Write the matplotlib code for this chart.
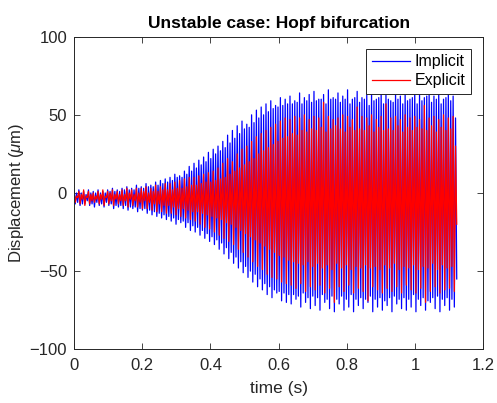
import numpy as np
import matplotlib
matplotlib.use("Agg")
import matplotlib.pyplot as plt

plt.rcParams['font.family'] = ['Liberation Sans', 'DejaVu Sans']
plt.rcParams['mathtext.fontset'] = 'custom'
plt.rcParams['mathtext.it'] = 'Liberation Sans:italic'

t_end = 1.122

# turning points of the oscillation (micrometres)
implicit_upper = [1, 0, 2, 0, 1, -1, 2, 0, 1, 0,
                  2, 0, 1, 0, 2, 1, 3, 1, 2, 1,
                  3, 2, 4, 2, 3, 2, 5, 3, 4, 3,
                  6, 4, 5, 4, 7, 5, 8, 6, 9, 7,
                  10, 8, 12, 10, 11, 10, 14, 12, 17, 14,
                  19, 16, 21, 18, 23, 20, 26, 22, 28, 25,
                  30, 27, 33, 29, 37, 32, 40, 35, 43, 38,
                  46, 41, 44, 42, 50, 45, 53, 48, 55, 50,
                  57, 52, 59, 54, 56, 55, 61, 56, 60, 57,
                  62, 57, 59, 58, 64, 57, 61, 59, 63, 58,
                  65, 59, 60, 60, 63, 57, 66, 60, 61, 60,
                  64, 58, 62, 60, 66, 57, 60, 61, 65, 58,
                  61, 60, 64, 56, 65, 59, 60, 61, 66, 57,
                  63, 60, 59, 58, 65, 60, 62, 57, 64, 59,
                  60, 61, 66, 57, 63, 59, 61, 62, 65, 58,
                  62, 60, 64, 57, 60, 61, 65, 59, 62, 48]
implicit_lower = [-7, -6, -8, -7, -7, -5, -8, -7, -9, -6,
                  -8, -7, -9, -6, -8, -7, -10, -8, -9, -8,
                  -10, -8, -11, -9, -10, -9, -12, -10, -11, -10,
                  -13, -11, -14, -12, -15, -13, -16, -14, -17, -15,
                  -18, -16, -20, -17, -19, -18, -22, -19, -24, -21,
                  -25, -22, -27, -24, -29, -26, -31, -28, -33, -30,
                  -36, -32, -39, -35, -42, -38, -45, -41, -48, -44,
                  -51, -47, -54, -50, -57, -52, -60, -55, -62, -58,
                  -65, -60, -67, -62, -64, -63, -69, -64, -70, -65,
                  -71, -65, -68, -66, -73, -64, -70, -67, -74, -66,
                  -72, -67, -75, -65, -70, -68, -74, -66, -76, -68,
                  -71, -66, -75, -68, -73, -65, -76, -68, -72, -67,
                  -74, -68, -70, -66, -76, -68, -73, -67, -75, -69,
                  -72, -67, -76, -66, -71, -68, -74, -67, -75, -68,
                  -73, -65, -76, -68, -72, -67, -75, -69, -70, -67,
                  -74, -66, -76, -68, -72, -67, -75, -68, -73, -55]
explicit_upper = [0, -2, 1, -1, 2, -2, 1, -1, 0, -2,
                  1, -1, 2, -2, 1, 0, 2, -1, 1, -1,
                  2, -1, 3, 0, 2, -1, 3, 0, 3, 1,
                  4, 0, 3, 1, 5, 1, 4, 2, 6, 2,
                  6, 2, 7, 3, 8, 3, 9, 4, 10, 5,
                  10, 5, 11, 6, 12, 7, 13, 7, 14, 8,
                  16, 9, 19, 10, 22, 12, 20, 14, 25, 16,
                  28, 18, 30, 20, 33, 22, 36, 25, 38, 27,
                  40, 29, 42, 31, 44, 33, 46, 35, 48, 36,
                  47, 38, 49, 37, 48, 40, 50, 39, 47, 41,
                  49, 40, 48, 42, 58, 39, 49, 41, 47, 43,
                  48, 41, 50, 39, 49, 42, 47, 40, 55, 41,
                  49, 40, 48, 43, 50, 39, 47, 42, 49, 40,
                  57, 41, 48, 40, 49, 43, 47, 39, 50, 42,
                  48, 40, 49, 42, 47, 41, 56, 40, 48, 43,
                  49, 39, 47, 42, 50, 40, 48, 41, 49, 30]
explicit_lower = [-6, -3, -7, -4, -8, -3, -7, -5, -6, -4,
                  -7, -4, -8, -3, -7, -5, -8, -4, -7, -5,
                  -8, -5, -9, -4, -8, -5, -9, -6, -10, -5,
                  -10, -6, -11, -7, -12, -7, -12, -8, -13, -8,
                  -13, -9, -14, -10, -15, -10, -16, -11, -17, -12,
                  -18, -12, -20, -13, -22, -14, -23, -15, -25, -16,
                  -27, -17, -29, -19, -31, -20, -33, -22, -36, -24,
                  -38, -26, -41, -28, -44, -30, -47, -32, -49, -34,
                  -52, -36, -54, -38, -55, -40, -57, -41, -58, -43,
                  -59, -44, -61, -45, -58, -46, -63, -44, -60, -47,
                  -62, -45, -59, -48, -64, -46, -61, -49, -70, -45,
                  -60, -48, -63, -46, -59, -49, -64, -47, -61, -48,
                  -63, -46, -69, -48, -60, -47, -62, -49, -64, -46,
                  -61, -48, -63, -45, -60, -49, -64, -47, -59, -48,
                  -62, -46, -64, -49, -61, -47, -70, -48, -63, -45,
                  -60, -49, -64, -46, -62, -48, -61, -47, -63, -20]


def zigzag(up, lo):
    y = np.empty(2 * len(up))
    y[0::2] = up
    y[1::2] = lo
    return y


y_imp = zigzag(implicit_upper, implicit_lower)
y_exp = zigzag(explicit_upper, explicit_lower)
t_imp = np.linspace(0, t_end, len(y_imp))
t_exp = np.linspace(0, t_end, len(y_exp))

fig = plt.figure(figsize=(4.97, 4.03), dpi=100)
ax = fig.add_axes([0.149, 0.1333, 0.8235, 0.7757])

ax.plot(t_imp, y_imp, color='b', lw=0.9, label='Implicit')
ax.plot(t_exp, y_exp, color='r', lw=0.9, label='Explicit')

ax.set_xlim(0, 1.2)
ax.set_ylim(-100, 100)
ax.set_xticks([0, 0.2, 0.4, 0.6, 0.8, 1, 1.2])
ax.set_xticklabels(['0', '0.2', '0.4', '0.6', '0.8', '1', '1.2'])
ax.set_yticks([-100, -50, 0, 50, 100])

dark = '#262626'
ax.tick_params(direction='in', top=True, right=True, length=4, width=0.6,
               labelsize=12, colors=dark)
ax.tick_params(axis='x', pad=6)
ax.tick_params(axis='y', pad=5)
for s in ax.spines.values():
    s.set_linewidth(0.7)
    s.set_color(dark)

ax.set_title('Unstable case: Hopf bifurcation', fontsize=12.5,
             fontweight='bold', pad=6)
ax.set_xlabel('time (s)', fontsize=12.5, color=dark, labelpad=6)
ax.set_ylabel(r'Displacement ($\mu$m)', fontsize=12, color=dark, labelpad=2.5)

leg = ax.legend(loc='upper right', fontsize=11.5, fancybox=False,
                framealpha=1, edgecolor=dark, handlelength=2.4,
                borderaxespad=0.75, borderpad=0.35, labelspacing=0.25,
                handletextpad=0.3)
leg.get_frame().set_linewidth(0.7)

fig.savefig('out.png', dpi=100)
